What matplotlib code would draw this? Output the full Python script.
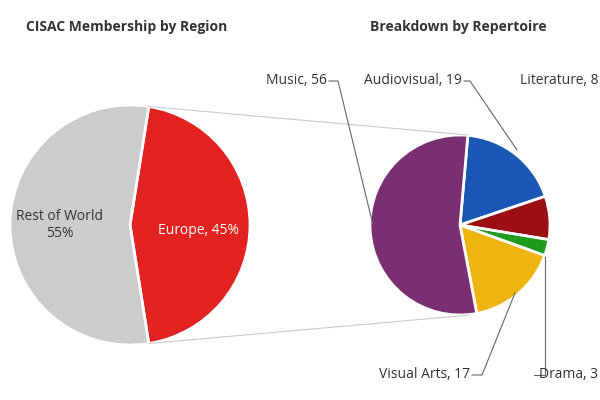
import matplotlib
matplotlib.use("Agg")
import matplotlib.pyplot as plt
import numpy as np

plt.rcParams["font.family"] = "Open Sans"

region_labels = ["Europe", "Rest of World"]
region_values = [45, 55]
rep_labels = ["Audiovisual", "Literature", "Drama", "Visual Arts", "Music"]
rep_values = [19, 8, 3, 17, 56]

fig = plt.figure(figsize=(6, 4), dpi=100)
ax = fig.add_axes([0, 0, 1, 1])

lc, lr = (130, 175), 120
rc, rr = (460, 175), 90
wp = dict(edgecolor="white", linewidth=2)

ang0 = region_values[0] / 100 * 180
ax.pie(region_values, center=lc, radius=lr, startangle=ang0, counterclock=False,
       colors=["#e32222", "#cccccc"], wedgeprops=wp, frame=True)
ax.pie(rep_values, center=rc, radius=rr, startangle=85, counterclock=False,
       colors=["#1a56b4", "#9b0f14", "#1e9a1e", "#f0b411", "#7b2f73"], wedgeprops=wp, frame=True)
ax.set_xlim(0, 600); ax.set_ylim(0, 400); ax.set_aspect("equal"); ax.axis("off")

ax.text(198, 170, f"{region_labels[0]}, {region_values[0]}%", color="white", ha="center", va="center", fontsize=10)
ax.text(60, 175, f"{region_labels[1]}\n{region_values[1]}%", color="#333333", ha="center", va="center", fontsize=10, linespacing=1.2)

a = np.deg2rad(ang0)
ax.plot([lc[0] + lr*np.cos(a), 468], [lc[1] + lr*np.sin(a), 265], color="#cccccc", lw=0.8)
ax.plot([lc[0] + lr*np.cos(a), 470], [lc[1] - lr*np.sin(a), 85], color="#cccccc", lw=0.8)

ax.text(127, 373, "CISAC Membership by Region", fontsize=10, fontweight="bold", color="#333333", ha="center", va="center")
ax.text(458, 373, "Breakdown by Repertoire", fontsize=10, fontweight="bold", color="#333333", ha="center", va="center")

lab = dict(fontsize=10, color="#333333", va="center")
lk = dict(color="#666666", lw=0.8)
ax.text(327, 319, f"Music, {rep_values[4]}", ha="right", **lab)
ax.plot([329, 338, 373], [319, 319, 175], **lk)
ax.text(462, 319, f"{rep_labels[0]}, {rep_values[0]}", ha="right", **lab)
ax.plot([464, 470, 517], [319, 319, 250], **lk)
ax.text(598, 319, f"{rep_labels[1]}, {rep_values[1]}", ha="right", **lab)
ax.text(598, 25, f"{rep_labels[2]}, {rep_values[2]}", ha="right", **lab)
ax.plot([545, 545, 534], [143, 25, 25], **lk)
ax.text(470, 25, f"{rep_labels[3]}, {rep_values[3]}", ha="right", **lab)
ax.plot([472, 482, 515], [25, 25, 107], **lk)

fig.savefig("out.png", dpi=100, facecolor="white")
